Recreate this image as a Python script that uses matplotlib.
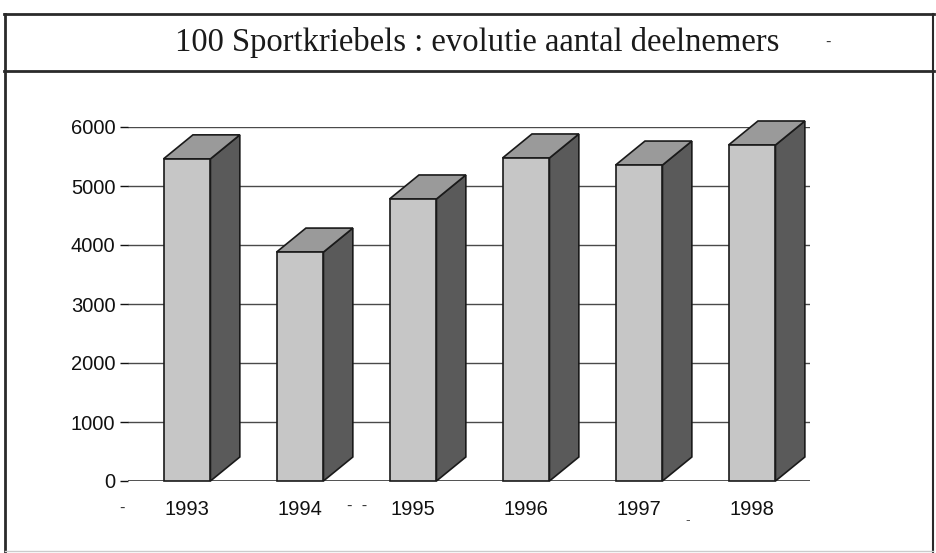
import matplotlib
matplotlib.use("Agg")
import matplotlib.pyplot as plt
from matplotlib.patches import Polygon
from matplotlib.lines import Line2D

# ---- data ----
years = ["1993", "1994", "1995", "1996", "1997", "1998"]
participants = [5460, 3880, 4780, 5475, 5355, 5695]
yticks = [0, 1000, 2000, 3000, 4000, 5000, 6000]
title = "100 Sportkriebels : evolutie aantal deelnemers"

W, H = 936, 553
fig = plt.figure(figsize=(W / 100, H / 100), dpi=100)
fig.patch.set_facecolor("white")

def fx(px):
    return px / W

def fy(py):
    return 1 - py / H

# axes placement (pixel coords of reference)
ax_left, ax_right = 128, 810
ax_top, ax_bot = 127, 481
ax = fig.add_axes([fx(ax_left), fy(ax_bot), fx(ax_right - ax_left), (ax_bot - ax_top) / H])

x = list(range(len(years)))
ax.set_xlim(-0.522, 5.513)
ax.set_ylim(0, 6000)

bar_w = 0.415
depth_x = 0.26            # in x data units
depth_y = 24 / 59 * 1000  # in y data units

front_c = "#c6c6c6"
side_c = "#5a5a5a"
top_c = "#9a9a9a"
edge_c = "#1a1a1a"

# gridlines
for v in yticks[1:]:
    ax.axhline(v, color="#4a4a4a", lw=1.0, zorder=1)
ax.axhline(0, color="#333333", lw=1.2, zorder=1)

for xi, v in zip(x, participants):
    x0, x1 = xi - bar_w / 2, xi + bar_w / 2
    side = Polygon([(x1, 0), (x1 + depth_x, depth_y), (x1 + depth_x, v + depth_y), (x1, v)],
                   closed=True, facecolor=side_c, edgecolor=edge_c, lw=1.2, zorder=3, clip_on=False)
    ax.add_patch(side)
    top = Polygon([(x0, v), (x0 + depth_x, v + depth_y), (x1 + depth_x, v + depth_y), (x1, v)],
                  closed=True, facecolor=top_c, edgecolor=edge_c, lw=1.2, zorder=3, clip_on=False)
    ax.add_patch(top)

# front faces
ax.bar(x, participants, width=bar_w, color=front_c, edgecolor=edge_c, linewidth=1.2,
       zorder=4, clip_on=False)

# axes styling
for s in ax.spines.values():
    s.set_visible(False)
ax.set_xticks(x)
ax.set_xticklabels(years)
ax.set_yticks(yticks)
ax.set_yticklabels([str(v) for v in yticks])
ax.tick_params(axis="x", length=0, pad=14, labelsize=14.5, colors="#111111")
ax.tick_params(axis="y", length=6, width=1, pad=3, labelsize=14.5, colors="#111111")
for lab in ax.get_xticklabels() + ax.get_yticklabels():
    lab.set_fontfamily("Liberation Sans")
ax.set_facecolor("none")

# frame (figure level)
frame_c = "#2a2a2a"
fig.add_artist(Line2D([fx(4), fx(934)], [fy(14), fy(14)], color=frame_c, lw=2.0))
fig.add_artist(Line2D([fx(4), fx(934)], [fy(71), fy(71)], color=frame_c, lw=2.0))
fig.add_artist(Line2D([fx(5), fx(5)], [fy(14), fy(553)], color=frame_c, lw=2.0))
fig.add_artist(Line2D([fx(933), fx(933)], [fy(14), fy(553)], color=frame_c, lw=1.5))
fig.add_artist(Line2D([fx(5), fx(933)], [fy(551), fy(551)], color="#cccccc", lw=1.0))

# title
fig.text(fx(477), fy(43), title, ha="center", va="center", fontsize=23.5,
         family="Liberation Serif", color="#1a1a1a")
fig.text(fx(828), fy(42), "-", ha="center", va="center", fontsize=12,
         family="Liberation Sans", color="#333333")

# stray scan marks
fig.text(fx(122), fy(508), "-", ha="center", va="center", fontsize=12, family="Liberation Sans", color="#333333")
fig.text(fx(357), fy(505), "-  -", ha="center", va="center", fontsize=12, family="Liberation Sans", color="#333333")
fig.text(fx(688), fy(520), "-", ha="center", va="center", fontsize=10, family="Liberation Sans", color="#555555")

fig.savefig("out.png", dpi=100, facecolor="white")
